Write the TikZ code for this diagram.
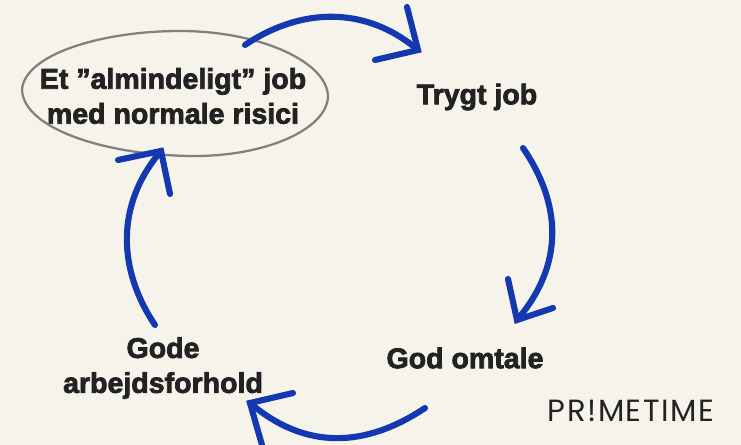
\documentclass[tikz,border=0pt]{standalone}
\usepackage{fontspec}
\setmainfont{Liberation Sans}
\newfontfamily\logofont[LetterSpace=5]{Poppins}
\definecolor{bgc}{HTML}{F6F4EA}
\definecolor{bluec}{HTML}{1338B0}
\definecolor{inkc}{HTML}{222222}
\definecolor{ringc}{HTML}{808080}
\newfontfamily\labfont[FakeBold=2.6]{Liberation Sans Bold}
\tikzset{
 lab/.style={font=\labfont\fontsize{21.4pt}{26.2pt}\selectfont,text=inkc,align=center,inner sep=0pt},
 flow/.style={draw=bluec,line width=4.6pt,line cap=round,line join=miter},
 ring/.style={draw=ringc,line width=1.7pt}
}
\begin{document}
\begin{tikzpicture}[x=0.75pt,y=-0.75pt]
\useasboundingbox[fill=bgc] (0,0) rectangle (741,445);
\node[lab] (a) at (173,96) {Et ”almindeligt” job\\med normale risici};
\node[lab] (b) at (477,97) {Trygt job};
\node[lab] (c) at (465,358) {God omtale};
\node[lab] (d) at (163,368) {Gode\\arbejdsforhold};
\node[font=\logofont\fontsize{23pt}{26pt}\selectfont,text=inkc,inner sep=0pt] (logo) at (631,411) {PR!METIME};
\draw[ring] (22,90) .. controls (24,55) and (100,31) .. (180,31)
  .. controls (260,31) and (328,62) .. (328,97)
  .. controls (326,130) and (265,156) .. (195,156)
  .. controls (110,156) and (24,130) .. (22,90) -- cycle;
\coordinate (a1) at (245,45); \coordinate (b1) at (418,50);
\coordinate (b2) at (407,7); \coordinate (b3) at (375,60);
\coordinate (c1) at (523,148); \coordinate (c2) at (517,320);
\coordinate (c3) at (508,279); \coordinate (c4) at (553,308);
\coordinate (d1) at (425,408); \coordinate (d2) at (250,403);
\coordinate (d3) at (293,393); \coordinate (d4) at (262,445);
\coordinate (e1) at (155,325); \coordinate (e2) at (161,151);
\coordinate (e3) at (118,160); \coordinate (e4) at (170,194);
\draw[flow] (a1) .. controls (300,8) and (365,5) .. (b1);
\draw[flow] (b2) -- (b1) -- (b3);
\draw[flow] (c1) .. controls (562,205) and (564,265) .. (c2);
\draw[flow] (c3) -- (c2) -- (c4);
\draw[flow] (d1) .. controls (365,448) and (305,450) .. (d2);
\draw[flow] (d3) -- (d2) -- (d4);
\draw[flow] (e1) .. controls (118,270) and (115,205) .. (e2);
\draw[flow] (e3) -- (e2) -- (e4);
\end{tikzpicture}
\end{document}
